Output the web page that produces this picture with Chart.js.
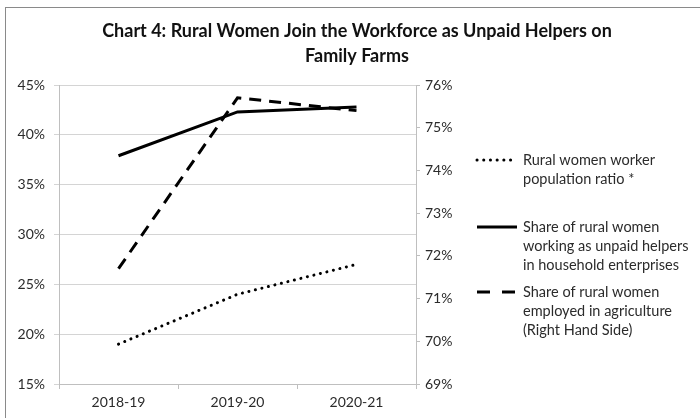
<!DOCTYPE html>
<html>
<head>
<meta charset="utf-8">
<script src="https://cdn.jsdelivr.net/npm/chart.js@4"></script>
<style>
  html, body { margin: 0; padding: 0; background: #fff; }
  #wrap { width: 700px; height: 418px; position: relative; }
</style>
</head>
<body>
<div id="wrap"><canvas id="c" width="700" height="418"></canvas></div>
<script>
const categories = ['2018-19', '2019-20', '2020-21'];
const workerPopRatio = [19.0, 24.0, 27.0];
const unpaidHelpers = [37.9, 42.3, 42.8];
const agriShare = [71.7, 75.7, 75.4];
const seriesNames = [
  ['Rural women worker', 'population ratio *'],
  ['Share of rural women', 'working as unpaid helpers', 'in household enterprises'],
  ['Share of rural women', 'employed in agriculture', '(Right Hand Side)']
];
const titleLines = ['Chart 4: Rural Women Join the Workforce as Unpaid Helpers on', 'Family Farms'];
const leftTicks = { min: 15, max: 45, step: 5 };
const rightTicks = { min: 69, max: 76, step: 1 };

const FONT = 'Lato, Calibri, "Liberation Sans", sans-serif';
const TEXT = '#2b2b2b';

const framePlugin = {
  id: 'frame',
  beforeDraw(chart) {
    const ctx = chart.ctx;
    ctx.save();
    ctx.fillStyle = '#fff';
    ctx.fillRect(0, 0, chart.width, chart.height);
    ctx.strokeStyle = '#8a8a8a';
    ctx.lineWidth = 1;
    ctx.strokeRect(5.5, 7.5, 800, 600);
    ctx.fillStyle = '#111';
    ctx.font = 'bold 18px ' + FONT;
    ctx.textAlign = 'center';
    ctx.textBaseline = 'middle';
    ctx.fillText(titleLines[0], 357, 31);
    ctx.fillText(titleLines[1], 357, 56);
    ctx.restore();
  }
};

const legendPlugin = {
  id: 'customLegend',
  afterDraw(chart) {
    const ctx = chart.ctx;
    const ys = [160, 227, 292];
    ctx.save();
    chart.data.datasets.forEach((ds, i) => {
      const y = ys[i];
      ctx.beginPath();
      ctx.strokeStyle = ds.borderColor;
      ctx.lineWidth = ds.borderWidth;
      ctx.lineCap = ds.borderCapStyle || 'butt';
      ctx.setLineDash(ds.legendDash || ds.borderDash || []);
      ctx.moveTo(477, y);
      ctx.lineTo(517, y);
      ctx.stroke();
      ctx.setLineDash([]);
      ctx.fillStyle = TEXT;
      ctx.font = '14.5px ' + FONT;
      ctx.textAlign = 'left';
      ctx.textBaseline = 'middle';
      seriesNames[i].forEach((t, j) => {
        ctx.fillText(t, 523, y + j * 19);
      });
    });
    ctx.restore();
  }
};

new Chart(document.getElementById('c'), {
  type: 'line',
  data: {
    labels: categories,
    datasets: [
      {
        label: seriesNames[0].join(' '),
        data: workerPopRatio,
        yAxisID: 'y',
        borderColor: '#000',
        borderWidth: 3,
        borderDash: [0.1, 6.6],
        borderCapStyle: 'round',
        legendDash: [0.1, 6.6],
        pointRadius: 0,
        tension: 0
      },
      {
        label: seriesNames[1].join(' '),
        data: unpaidHelpers,
        yAxisID: 'y',
        borderColor: '#000',
        borderWidth: 3,
        pointRadius: 0,
        tension: 0
      },
      {
        label: seriesNames[2].join(' '),
        data: agriShare,
        yAxisID: 'y1',
        borderColor: '#000',
        borderWidth: 3,
        borderDash: [12, 8],
        legendDash: [13, 12],
        pointRadius: 0,
        tension: 0
      }
    ]
  },
  options: {
    responsive: false,
    animation: false,
    devicePixelRatio: 1,
    layout: { padding: { top: 85, left: 0, right: 0, bottom: 0 } },
    plugins: {
      legend: { display: false },
      title: { display: false },
      tooltip: { enabled: false }
    },
    scales: {
      x: {
        type: 'category',
        offset: true,
        grid: {
          display: true,
          drawOnChartArea: false,
          drawTicks: true,
          tickLength: 5,
          offset: true,
          color: '#bfbfbf'
        },
        border: { color: '#bfbfbf', width: 1 },
        ticks: {
          color: TEXT,
          font: { family: FONT, size: 14 },
          padding: 5,
          maxRotation: 0
        },
        afterFit(scale) { scale.height = 34; }
      },
      y: {
        position: 'left',
        min: leftTicks.min,
        max: leftTicks.max,
        grid: {
          color: '#d4d4d4',
          lineWidth: 1,
          tickLength: 5,
          drawTicks: true
        },
        border: { color: '#bfbfbf', width: 1 },
        ticks: {
          stepSize: leftTicks.step,
          color: TEXT,
          font: { family: FONT, size: 14 },
          padding: 9,
          callback: v => v + '%'
        },
        afterFit(scale) { scale.width = 59; }
      },
      y1: {
        position: 'right',
        min: rightTicks.min,
        max: rightTicks.max,
        grid: {
          drawOnChartArea: false,
          color: '#bfbfbf',
          tickLength: 4,
          drawTicks: true
        },
        border: { color: '#bfbfbf', width: 1 },
        ticks: {
          stepSize: rightTicks.step,
          color: TEXT,
          font: { family: FONT, size: 14 },
          padding: 5,
          callback: v => v + '%'
        },
        afterFit(scale) { scale.width = 284; }
      }
    }
  },
  plugins: [framePlugin, legendPlugin]
});
</script>
</body>
</html>
